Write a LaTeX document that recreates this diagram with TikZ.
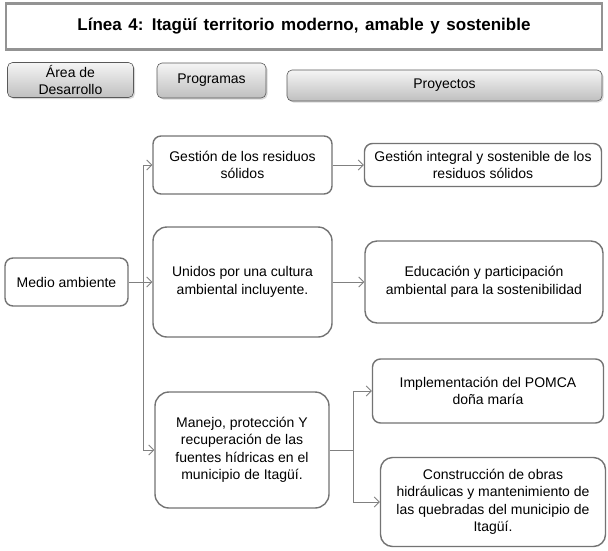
\documentclass[tikz,border=0pt]{standalone}
\usepackage{fontspec}
\setmainfont{Liberation Sans}
\usetikzlibrary{arrows.meta,shadows}

\begin{document}
\begin{tikzpicture}[x=1pt, y=-1pt,
    caja/.style={draw=gray!90!black, line width=1.4pt, fill=white, rounded corners=8pt,
        align=center, inner sep=2pt, font=\fontsize{14}{17.5}\selectfont},
    encabezado/.style={draw=gray!70!black, line width=0.6pt, rounded corners=5pt,
        top color=gray!8, bottom color=gray!50,
        drop shadow={shadow xshift=1.5pt, shadow yshift=-1.5pt, fill=gray!60},
        align=center, inner sep=0pt, font=\fontsize{14}{16.5}\selectfont},
    flecha/.style={draw=gray, line width=0.9pt, -{Straight Barb[length=5pt,width=10pt]}}]
    % Marco
    \useasboundingbox (0,0) rectangle (608,550);

    % Titulo
    \node[draw=gray!85, line width=2.2pt, fill=white, minimum width=596pt, minimum height=46pt,
        font=\bfseries\fontsize{17}{20}\selectfont] (titulo) at (304,26.5)
        {\spaceskip=6.6pt\relax Línea 4: Itagüí territorio moderno, amable y sostenible};

    % Encabezados
    \node[encabezado, minimum width=126pt, minimum height=35pt] (hArea) at (70.5,80) {Área de\\Desarrollo};
    \node[encabezado, minimum width=109pt, minimum height=35pt] (hProg) at (211.5,80.5) {Programas};
    \node[encabezado, minimum width=315pt, minimum height=31pt] (hProy) at (444.5,85.5) {Proyectos};

    % Area de desarrollo
    \node[caja, minimum width=123pt, minimum height=48pt] (amb) at (66.5,282) {Medio ambiente};

    % Programas
    \node[caja, minimum width=179pt, minimum height=58pt] (prog1) at (242.5,165)
        {Gestión de los residuos\\sólidos};
    \node[caja, rounded corners=14pt, minimum width=179pt, minimum height=110pt] (prog2) at (242.5,282)
        {Unidos por una cultura\\ambiental incluyente.};
    \node[caja, rounded corners=14pt, minimum width=174pt, minimum height=116pt] (prog3) at (242,450)
        {Manejo, protección Y\\recuperación de las\\fuentes hídricas en el\\municipio de Itagüí.};

    % Proyectos
    \node[caja, minimum width=237pt, minimum height=43pt] (proy1) at (483,165)
        {Gestión integral y sostenible de los\\residuos sólidos};
    \node[caja, rounded corners=12pt, minimum width=238pt, minimum height=82pt] (proy2) at (484,282)
        {Educación y participación\\ambiental para la sostenibilidad};
    \node[caja, minimum width=231pt, minimum height=64pt] (proy3) at (488,391)
        {Implementación del POMCA\\doña maría};
    \node[caja, rounded corners=12pt, minimum width=225pt, minimum height=89pt] (proy4) at (493,502)
        {Construcción de obras\\hidráulicas y mantenimiento de\\las quebradas del municipio de\\Itagüí.};

    % Conectores
    \coordinate (tronco) at (143,0);
    \coordinate (rama) at (353,0);
    \draw[flecha] (amb.east) -- (prog2.west);
    \draw[flecha] (tronco |- amb.east) |- (prog1.west);
    \draw[flecha] (tronco |- amb.east) |- (prog3.west);
    \draw[flecha] (prog1.east) -- (proy1.west);
    \draw[flecha] (prog2.east) -- (proy2.west);
    \draw[flecha] (prog3.east) -- (rama |- prog3.east) |- (proy3.west);
    \draw[flecha] (rama |- prog3.east) |- (proy4.west);

\end{tikzpicture}
\end{document}
